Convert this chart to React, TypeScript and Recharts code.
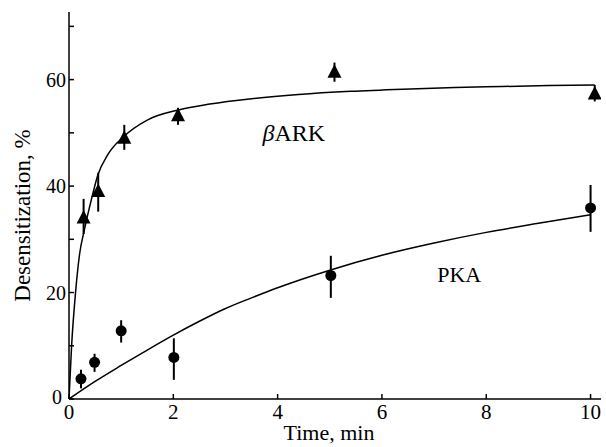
import { ComposedChart, ErrorBar, Line, ReferenceDot, Scatter, XAxis, YAxis } from 'recharts';

// measured points (mean, with error bar ends)
const bArkTime = [0.28, 0.56, 1.06, 2.09, 5.09, 10.08];
const bArkMean = [34, 39, 49, 53.2, 61.4, 57.3];
const bArkLow = [31, 35.2, 46.8, 51.5, 59.6, 55.9];
const bArkHigh = [37.6, 42.5, 51.5, 54.7, 63.2, 59];

const pkaTime = [0.23, 0.49, 1.0, 2.01, 5.02, 10.0];
const pkaMean = [3.8, 6.9, 12.8, 7.8, 23.2, 35.9];
const pkaLow = [2, 5.1, 10.6, 3.6, 19, 31.4];
const pkaHigh = [5.5, 8.5, 14.8, 11.4, 26.9, 40.2];

// fitted curves
const bArkCurveTime = [0, 0.05, 0.13, 0.2, 0.3, 0.43, 0.55, 0.75, 1.05, 1.5, 2.1, 2.7, 3.5, 4.4, 5.4, 6.4, 7.4, 8.3, 9.2, 10.08];
const bArkCurveValue = [0, 10, 20.5, 27, 32, 37.5, 42, 46, 49.3, 52.4, 54.3, 55.4, 56.4, 57.2, 57.8, 58.2, 58.5, 58.7, 58.9, 59];

const pkaCurveTime = [0, 0.5, 1, 1.5, 2, 2.5, 3, 3.5, 4, 5, 6, 7, 8, 9, 10];
const pkaCurveValue = [0, 3.3, 6.3, 9.2, 12, 14.6, 17, 19, 20.9, 24.2, 27, 29.3, 31.3, 33, 34.6];

const xTicks = [0, 2, 4, 6, 8, 10];
const yTicks = [0, 10, 20, 30, 40, 50, 60, 70];
const yLabelTicks = [0, 20, 40, 60];

const toPoints = (time: number[], mean: number[], low: number[], high: number[]) =>
  time.map((t, i) => ({ time: t, value: mean[i], err: [mean[i] - low[i], high[i] - mean[i]] }));

const bArkPoints = toPoints(bArkTime, bArkMean, bArkLow, bArkHigh);
const pkaPoints = toPoints(pkaTime, pkaMean, pkaLow, pkaHigh);
const bArkCurve = bArkCurveTime.map((t, i) => ({ time: t, value: bArkCurveValue[i] }));
const pkaCurve = pkaCurveTime.map((t, i) => ({ time: t, value: pkaCurveValue[i] }));

const FONT = '"Liberation Serif", "Times New Roman", serif';
const xTickStyle = { fontSize: 21, fill: '#000', fontFamily: FONT };

const Triangle = (p: any) => {
  const { cx, cy } = p;
  return (
    <polygon
      points={`${cx},${cy - 8} ${cx - 7},${cy + 5.5} ${cx + 7},${cy + 5.5}`}
      fill="#000"
    />
  );
};

const Dot = (p: any) => <circle cx={p.cx} cy={p.cy} r={5.5} fill="#000" />;

// y tick text; the 0 is nudged left so it clears the x axis 0
const YTick = (p: any) => {
  const v = p.payload.value;
  if (!yLabelTicks.includes(v)) return null;
  return (
    <text
      x={p.x}
      y={p.y}
      dx={v === 0 ? -4 : 0}
      dy={v === 0 ? -2 : 0}
      textAnchor="end"
      dominantBaseline="central"
      style={{ fontSize: 20, fontFamily: FONT, fill: '#000' }}
    >
      {v}
    </text>
  );
};

const YTitle = (props: any) => {
  const vb = props.viewBox;
  const cx = 22;
  const cy = vb.y + vb.height / 2 + 10;
  return (
    <text
      x={cx}
      y={cy}
      transform={`rotate(-90 ${cx} ${cy})`}
      textAnchor="middle"
      dominantBaseline="central"
      style={{ fontSize: 23, fontFamily: FONT, fill: '#000' }}
    >
      Desensitization, %
    </text>
  );
};

export default function App() {
  return (
    <div style={{ position: 'absolute', left: 0, top: 0, background: '#fff' }}>
      <ComposedChart width={606} height={447} margin={{ top: 12, right: 5, bottom: 0, left: 0 }}>
        <XAxis
          dataKey="time"
          type="number"
          domain={[0, 10.2]}
          ticks={xTicks}
          allowDataOverflow
          height={48}
          stroke="#000"
          strokeWidth={1.5}
          tickSize={-5}
          tickMargin={10}
          tick={xTickStyle}
          label={{ value: 'Time, min', position: 'insideBottom', offset: 7, dx: -6, style: { fontSize: 22, fontFamily: FONT, fill: '#000' } }}
        />
        <XAxis
          xAxisId="top"
          orientation="top"
          dataKey="time"
          type="number"
          domain={[0, 10.2]}
          ticks={xTicks}
          allowDataOverflow
          height={0}
          stroke="#000"
          strokeWidth={1.5}
          tickSize={-5}
          tick={false}
        />
        <YAxis
          type="number"
          domain={[0, 72.7]}
          ticks={yTicks}
          allowDataOverflow
          width={69}
          stroke="#000"
          strokeWidth={1.5}
          tickSize={-5}
          tickMargin={8}
          tick={YTick}
          label={YTitle}
        />
        <Line data={bArkCurve} dataKey="value" type="monotone" stroke="#000" strokeWidth={1.5} dot={false} isAnimationActive={false} />
        <Line data={pkaCurve} dataKey="value" type="monotone" stroke="#000" strokeWidth={1.5} dot={false} isAnimationActive={false} />
        <Scatter data={bArkPoints} dataKey="value" shape={Triangle} isAnimationActive={false}>
          <ErrorBar dataKey="err" direction="y" width={0} stroke="#000" strokeWidth={2} isAnimationActive={false} />
        </Scatter>
        <Scatter data={pkaPoints} dataKey="value" shape={Dot} isAnimationActive={false}>
          <ErrorBar dataKey="err" direction="y" width={0} stroke="#000" strokeWidth={2} isAnimationActive={false} />
        </Scatter>
        <ReferenceDot
          x={3.71}
          y={48.5}
          r={0}
          shape={(p: any) => (
            <text x={p.cx} y={p.cy} style={{ fontSize: 24, fontFamily: FONT, fill: '#000' }}>
              <tspan fontStyle="italic">β</tspan>ARK
            </text>
          )}
        />
        <ReferenceDot
          x={7.06}
          y={22}
          r={0}
          shape={(p: any) => (
            <text x={p.cx} y={p.cy} style={{ fontSize: 22, fontFamily: FONT, fill: '#000' }}>
              PKA
            </text>
          )}
        />
      </ComposedChart>
    </div>
  );
}
